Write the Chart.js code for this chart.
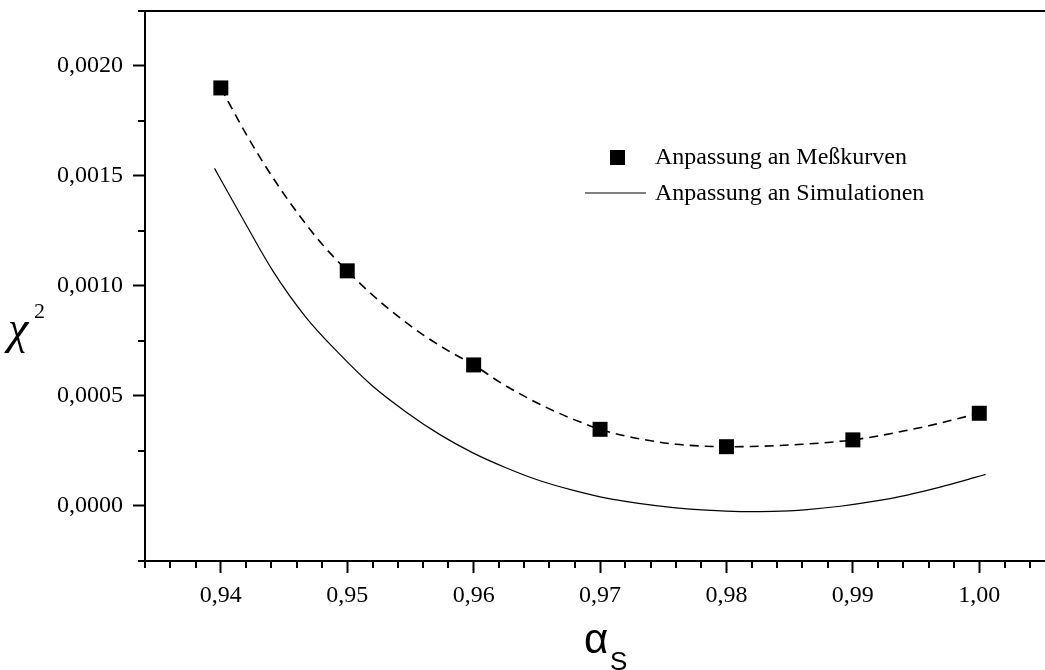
<!DOCTYPE html>
<html>
<head>
<meta charset="utf-8">
<title>Chi-Quadrat gegen alpha_s</title>
<script src="https://cdn.jsdelivr.net/npm/chart.js@4.4.1/dist/chart.umd.min.js"></script>
<style>
  html, body { margin: 0; padding: 0; background: #fff; overflow: hidden; }
</style>
</head>
<body>
<canvas id="chi2Chart" width="1045" height="670"></canvas>
<script>
// Messpunkte: Anpassung an Meßkurven
const alphaPoints = [0.94, 0.95, 0.96, 0.97, 0.98, 0.99, 1.00];
const chi2Points  = [0.00190, 0.001068, 0.00064, 0.000347, 0.000268, 0.000299, 0.00042];

// gestrichelte Ausgleichskurve durch die Messpunkte
const fitAlpha = [0.940, 0.942, 0.944, 0.946, 0.948, 0.950, 0.952, 0.954, 0.956, 0.958,
                  0.960, 0.962, 0.964, 0.966, 0.968, 0.970, 0.972, 0.974, 0.976, 0.978,
                  0.980, 0.982, 0.984, 0.986, 0.988, 0.990, 0.992, 0.994, 0.996, 0.998, 1.000];
const fitChi2  = [0.00190, 0.00169, 0.001502, 0.001336, 0.00119, 0.001068, 0.000958, 0.000862, 0.000777, 0.000704,
                  0.00064, 0.000564, 0.000498, 0.00044, 0.00039, 0.000347, 0.000317, 0.000295, 0.000279, 0.000271,
                  0.000268, 0.000269, 0.000273, 0.000279, 0.000287, 0.000299, 0.000317, 0.000339, 0.000363, 0.000391, 0.00042];

// Anpassung an Simulationen (durchgezogene Linie)
const simAlpha = [0.9395, 0.9415, 0.9441, 0.9467, 0.9494, 0.9520, 0.9547, 0.9573, 0.9599, 0.9626,
                  0.9652, 0.9679, 0.9705, 0.9732, 0.9758, 0.9784, 0.9811, 0.9837, 0.9864, 0.9890,
                  0.9916, 0.9943, 0.9969, 0.9996, 1.0005];
const simChi2  = [0.001534, 0.001329, 0.001069, 0.000859, 0.000689, 0.000544, 0.000424, 0.000324, 0.000241, 0.000171,
                  0.000114, 0.000069, 0.000034, 0.000009, -0.000009, -0.000021, -0.000027, -0.000026, -0.000018, -0.000003,
                  0.000019, 0.000048, 0.000084, 0.000127, 0.000142];

// Achsenbeschriftung
const xTickValues = [0.94, 0.95, 0.96, 0.97, 0.98, 0.99, 1.00];
const yTickValues = [0.0000, 0.0005, 0.0010, 0.0015, 0.0020];
const legendLabels = ['Anpassung an Meßkurven', 'Anpassung an Simulationen'];

const serif = "'Liberation Serif', 'Times New Roman', serif";

function comma(v, digits) {
    if (Math.abs(v) < 1e-12) v = 0;
    return v.toFixed(digits).replace('.', ',');
}

function toXY(xs, ys) {
    return xs.map((x, i) => ({ x: x, y: ys[i] }));
}

// Rahmen oben, kleine Striche, Legende und Achsentitel
const decorations = {
    id: 'decorations',
    afterDraw(chart) {
        const ctx = chart.ctx;
        const area = chart.chartArea;
        const xs = chart.scales.x;
        const ys = chart.scales.y;
        ctx.save();
        ctx.strokeStyle = '#000';
        ctx.fillStyle = '#000';

        // obere Rahmenlinie
        ctx.lineWidth = 2;
        ctx.beginPath();
        ctx.moveTo(area.left - 7, area.top);
        ctx.lineTo(area.right, area.top);
        ctx.stroke();

        // Nebenstriche x (alle 0,002)
        for (let k = 467; k <= 503; k++) {
            if (k % 5 === 0) continue;
            const px = Math.round(xs.getPixelForValue(k * 0.002));
            ctx.beginPath();
            ctx.moveTo(px, area.bottom);
            ctx.lineTo(px, area.bottom + 7);
            ctx.stroke();
        }
        // Nebenstriche y (alle 0,00025)
        for (let k = -1; k <= 9; k += 2) {
            const py = Math.round(ys.getPixelForValue(k * 0.00025));
            ctx.beginPath();
            ctx.moveTo(area.left, py);
            ctx.lineTo(area.left - 7, py);
            ctx.stroke();
        }

        // Legende
        ctx.fillRect(610, 150, 15, 15);
        ctx.font = '24px ' + serif;
        ctx.textBaseline = 'middle';
        ctx.textAlign = 'left';
        ctx.fillText(chart.data.datasets[0].label, 655, 158);
        ctx.lineWidth = 1.2;
        ctx.beginPath();
        ctx.moveTo(585, 193);
        ctx.lineTo(646, 193);
        ctx.stroke();
        ctx.fillText(chart.data.datasets[2].label, 655, 194);

        // Achsentitel
        ctx.textBaseline = 'alphabetic';
        ctx.font = 'italic 46px ' + serif;
        ctx.fillText('χ', 8, 343);
        ctx.font = '22px ' + serif;
        ctx.fillText('2', 34, 318);
        ctx.font = '42px "Liberation Sans", Arial, sans-serif';
        ctx.fillText('α', 584, 653);
        ctx.font = '26px "Liberation Sans", Arial, sans-serif';
        ctx.fillText('S', 610, 670);
        ctx.restore();
    }
};

new Chart(document.getElementById('chi2Chart'), {
    type: 'scatter',
    data: {
        datasets: [
            {
                label: legendLabels[0],
                data: toXY(alphaPoints, chi2Points),
                showLine: false,
                pointStyle: 'rect',
                pointRadius: 10.6,
                backgroundColor: '#000',
                borderColor: '#000',
                borderWidth: 0
            },
            {
                label: 'Fit',
                data: toXY(fitAlpha, fitChi2),
                showLine: true,
                borderColor: '#000',
                borderWidth: 1.6,
                borderDash: [9, 6],
                pointRadius: 0,
                cubicInterpolationMode: 'monotone'
            },
            {
                label: legendLabels[1],
                data: toXY(simAlpha, simChi2),
                showLine: true,
                borderColor: '#000',
                borderWidth: 1.2,
                pointRadius: 0,
                cubicInterpolationMode: 'monotone'
            }
        ]
    },
    options: {
        responsive: false,
        animation: false,
        layout: { autoPadding: false, padding: { top: 11, left: 0, right: 0, bottom: 0 } },
        plugins: {
            legend: { display: false },
            tooltip: { enabled: false }
        },
        scales: {
            x: {
                type: 'linear',
                min: 0.934,
                max: 1.0052,
                afterBuildTicks: (scale) => { scale.ticks = xTickValues.map(v => ({ value: v })); },
                afterFit: (scale) => {
                    scale.height = 109;
                    scale.paddingLeft = 0;
                    scale.paddingRight = 0;
                },
                grid: { drawOnChartArea: false, tickLength: 12, tickWidth: 2, tickColor: '#000' },
                border: { color: '#000', width: 2 },
                ticks: {
                    color: '#000',
                    padding: 8,
                    maxRotation: 0,
                    autoSkip: false,
                    font: { family: serif, size: 24 },
                    callback: (v) => comma(v, 2)
                }
            },
            y: {
                type: 'linear',
                min: -0.000252,
                max: 0.00225,
                afterBuildTicks: (scale) => { scale.ticks = yTickValues.map(v => ({ value: v })); },
                afterFit: (scale) => {
                    scale.width = 145;
                    scale.paddingTop = 0;
                    scale.paddingBottom = 0;
                },
                grid: { drawOnChartArea: false, tickLength: 12, tickWidth: 2, tickColor: '#000' },
                border: { color: '#000', width: 2 },
                ticks: {
                    color: '#000',
                    padding: 10,
                    autoSkip: false,
                    font: { family: serif, size: 24 },
                    callback: (v) => comma(v, 4)
                }
            }
        }
    },
    plugins: [decorations]
});
</script>
</body>
</html>
